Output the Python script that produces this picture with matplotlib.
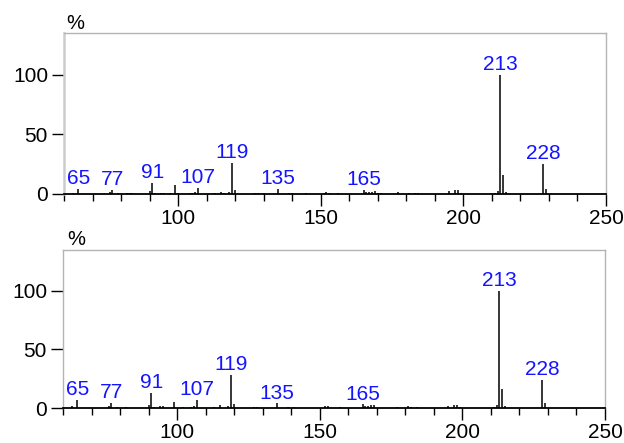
import matplotlib
matplotlib.use("Agg")
import matplotlib.pyplot as plt
from matplotlib.ticker import MultipleLocator, FixedLocator

plt.rcParams['font.family'] = ['Liberation Sans', 'DejaVu Sans']

# ---- data ----
mz_top = [63, 65, 76, 77, 79, 82, 83, 84, 90, 91, 92, 94, 95, 97, 99, 100,
          104, 105, 106, 107, 113, 115, 116, 118, 119, 120, 127, 128, 130,
          135, 139, 140, 145, 151, 152, 153, 156, 165, 166, 167, 168, 169,
          170, 171, 177, 181, 183, 184, 195, 197, 198, 199, 211, 212, 213,
          214, 215, 228, 229]
int_top = [1.2, 3.9, 2.0, 3.2, 1.0, 1.0, 0.8, 0.8, 2.2, 9.5, 1.0, 1.0, 1.2,
           0.8, 7.3, 1.0, 1.0, 1.0, 1.5, 5.3, 1.0, 1.5, 1.2, 1.5, 25.7, 3.0,
           0.8, 1.0, 1.0, 3.9, 1.0, 1.0, 0.6, 1.0, 1.5, 1.0, 0.6, 3.4, 1.5,
           1.5, 2.0, 2.8, 1.0, 1.0, 1.5, 1.2, 1.0, 1.0, 2.6, 3.3, 3.2, 1.0,
           0.8, 2.5, 100.0, 16.0, 1.5, 25.2, 4.2]

mz_bot = [63, 65, 76, 77, 79, 82, 90, 91, 92, 94, 95, 99, 102, 105, 106, 107,
          113, 115, 118, 119, 120, 127, 128, 135, 139, 141, 152, 153, 157,
          165, 166, 167, 168, 169, 177, 181, 182, 184, 195, 197, 198, 199,
          211, 212, 213, 214, 215, 228, 229]
int_bot = [1.5, 7.0, 1.7, 4.2, 1.0, 0.8, 2.5, 12.7, 1.0, 1.5, 1.5, 5.0, 0.8,
           1.2, 1.5, 6.8, 1.0, 2.3, 1.5, 28.5, 3.0, 1.0, 1.0, 3.9, 1.0, 1.2,
           1.8, 1.8, 0.8, 3.1, 2.0, 1.5, 2.3, 2.3, 1.0, 1.5, 1.2, 0.8, 1.7,
           2.5, 2.5, 1.0, 0.8, 2.5, 100.0, 16.0, 1.5, 23.7, 4.0]

label_mz = [65, 77, 91, 107, 119, 135, 165, 213, 228]

xlim = (60, 250)
ylim = (0, 135)
x_major = [100, 150, 200, 250]
y_major = [0, 50, 100]

W, H = 624, 443
fig = plt.figure(figsize=(W / 100, H / 100), dpi=100)

panels = [
    (mz_top, int_top, [64 / W, 1 - 194 / H, (606 - 64) / W, (194 - 33) / H], True),
    (mz_bot, int_bot, [63 / W, 1 - 408 / H, (605 - 63) / W, (408 - 250) / H], False),
]

for mz, inten, rect, top in panels:
    ax = fig.add_axes(rect)
    ax.vlines(mz, 0, inten, color='black', linewidth=1.1)
    lookup = dict(zip(mz, inten))
    for m in label_mz:
        ax.annotate(str(m), (m, lookup[m]), xytext=(0, 3.5),
                    textcoords='offset points', ha='center', va='baseline',
                    color='#1414ff', fontsize=15)
    ax.set_xlim(*xlim)
    ax.set_ylim(*ylim)
    ax.xaxis.set_major_locator(FixedLocator(x_major))
    ax.xaxis.set_minor_locator(MultipleLocator(10))
    ax.yaxis.set_major_locator(FixedLocator(y_major))
    ax.tick_params(axis='x', which='major', direction='out', length=8.5,
                   width=1.0, labelsize=15, pad=2.5)
    ax.tick_params(axis='x', which='minor', direction='out', length=4.8, width=1.0)
    ax.tick_params(axis='y', which='major', direction='out', length=9,
                   width=1.0, labelsize=15, pad=2.5)
    ax.spines['bottom'].set_color('black')
    ax.spines['bottom'].set_linewidth(1.3)
    for s in ['top', 'right']:
        ax.spines[s].set_color('#b4b4b4')
        ax.spines[s].set_linewidth(1.0)
    if top:
        ax.spines['left'].set_color('#cccccc')
        ax.spines['left'].set_linewidth(1.8)
    else:
        ax.spines['left'].set_color('#b4b4b4')
        ax.spines['left'].set_linewidth(1.0)
    ax.set_facecolor('white')

fig.text(66 / W, 1 - 29 / H, '%', fontsize=14.5, va='baseline', ha='left')
fig.text(67 / W, 1 - 245 / H, '%', fontsize=14.5, va='baseline', ha='left')

fig.savefig('out.png', dpi=100)
